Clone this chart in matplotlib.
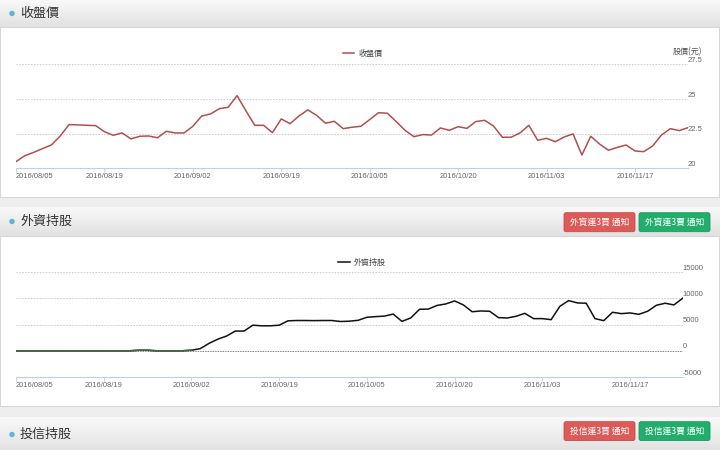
import numpy as np
import matplotlib.pyplot as plt
from matplotlib.patches import Rectangle, FancyBboxPatch, Circle
from matplotlib.colors import LinearSegmentedColormap

W, H = 720, 450
CJK = ['Noto Sans CJK TC', 'DejaVu Sans']
NUM = ['Liberation Sans', 'DejaVu Sans']

## Data
date_labels = ['2016/08/05', '2016/08/19', '2016/09/02', '2016/09/19',
               '2016/10/05', '2016/10/20', '2016/11/03', '2016/11/17']

close_price = [20.48, 20.91, 21.15, 21.42, 21.68, 22.33, 23.15, 23.13, 23.10, 23.08,
               22.64, 22.38, 22.55, 22.12, 22.31, 22.33, 22.20, 22.67, 22.55, 22.55,
               23.03, 23.77, 23.92, 24.30, 24.40, 25.24, 24.15, 23.10, 23.10, 22.57,
               23.56, 23.22, 23.77, 24.21, 23.82, 23.25, 23.39, 22.86, 22.96, 23.03,
               23.51, 24.01, 23.97, 23.37, 22.74, 22.28, 22.43, 22.40, 22.91, 22.74,
               23.00, 22.88, 23.37, 23.46, 23.05, 22.24, 22.24, 22.55, 23.10, 22.02,
               22.16, 21.92, 22.26, 22.48, 20.96, 22.31, 21.75, 21.30, 21.51, 21.68,
               21.25, 21.20, 21.61, 22.40, 22.86, 22.72, 22.93]

foreign_hold = [0, 0, 0, 0, 0, 0, 0, 0, 0, 0,
                0, 0, 0, 0, 100, 100, 0, 0, 0, 0,
                100, 400, 1400, 2200, 2800, 3750, 3750, 4870, 4750, 4750,
                4870, 5700, 5760, 5760, 5740, 5760, 5760, 5570, 5630, 5800,
                6380, 6500, 6600, 6980, 5590, 6250, 7900, 7940, 8630, 8920,
                9490, 8730, 7430, 7580, 7520, 6310, 6240, 6560, 7130, 6120,
                6120, 5920, 8470, 9550, 9110, 9050, 6120, 5730, 7330, 7070,
                7200, 6940, 7520, 8660, 9050, 8730, 10000]

price_ticks = [20, 22.5, 25, 27.5]
hold_ticks = [-5000, 0, 5000, 10000, 15000]

## Page background
fig = plt.figure(figsize=(7.2, 4.5), dpi=100)
bg = fig.add_axes([0, 0, 1, 1])
bg.axis('off')
bg.add_patch(Rectangle((0, 0), W, H, color='#eeeeee', zorder=0))

head_cmap = LinearSegmentedColormap.from_list('head', ['#f9f9f9', '#e1e1e1'])
grad = np.linspace(0, 1, 64).reshape(-1, 1)


def header(y0, y1, title, buttons=()):
    bg.imshow(grad, cmap=head_cmap, extent=(0, W, y1, y0), aspect='auto', zorder=1)
    bg.plot([0, W], [y1, y1], color='#d6d6d6', lw=0.6, zorder=2)
    ym = (y0 + y1) / 2
    bg.add_patch(Circle((12, ym), 2.0, color='#5bb6d6', zorder=3))
    bg.text(20, ym, title, family=CJK, fontsize=9.4, color='#333333',
            ha='left', va='center', zorder=3)
    for (bx0, bx1, by0, by1, label, face, edge) in buttons:
        bg.add_patch(FancyBboxPatch((bx0, by0), bx1 - bx0, by1 - by0,
                                    boxstyle='round,pad=0,rounding_size=2',
                                    facecolor=face, edgecolor=edge, lw=0.6, zorder=3))
        bg.text((bx0 + bx1) / 2, (by0 + by1) / 2, label, family=CJK, fontsize=6.3,
                color='white', ha='center', va='center', zorder=4)


def panel(y0, y1):
    bg.add_patch(Rectangle((0, y0), W - 1, y1 - y0, facecolor='white',
                           edgecolor='#d8d8d8', lw=0.8, zorder=1))


panel(27, 197)
panel(236, 406)
header(0, 27, '收盤價')
header(207, 236, '外資持股',
       [(564, 635, 212.7, 231.7, '外資連3買 通知', '#dc5b59', '#c94947'),
        (639, 710, 212.7, 231.7, '外資連3賣 通知', '#21ad6c', '#1a9a5c')])
header(417, 452, '投信持股',
       [(564, 635, 421.7, 440.5, '投信連3買 通知', '#dc5b59', '#c94947'),
        (639, 710, 421.7, 440.5, '投信連3賣 通知', '#21ad6c', '#1a9a5c')])
bg.set_xlim(0, W)
bg.set_ylim(H, 0)

x = np.arange(len(close_price))


def chart_axes(left, right, top, bottom):
    ax = fig.add_axes([left / W, 1 - bottom / H, (right - left) / W, (bottom - top) / H])
    ax.set_facecolor('none')
    for s in ['top', 'right', 'left']:
        ax.spines[s].set_visible(False)
    ax.spines['bottom'].set_color('#c0d0e0')
    ax.spines['bottom'].set_linewidth(0.8)
    ax.set_xlim(0, len(close_price) - 1)
    ax.set_xticks(range(0, 10 * len(date_labels), 10))
    ax.set_xticklabels(date_labels, family=NUM)
    # first label sits to the right of its tick, like the page does
    ax.get_xticklabels()[0].set_horizontalalignment('left')
    ax.tick_params(axis='x', length=3, width=0.6, color='#c0d0e0', labelsize=5.4,
                   labelcolor='#666666', pad=0.3)
    ax.tick_params(axis='y', length=0, labelleft=False)
    ax.grid(axis='y', color='#c8c8c8', lw=0.6, linestyle=(0, (2, 1.5)))
    return ax


def right_labels(ax, ticks):
    for v in ticks:
        ax.annotate(f'{v:g}', xy=(1, v), xycoords=ax.get_yaxis_transform(),
                    xytext=(0, 2.7), textcoords='offset points', ha='left', va='center',
                    family=NUM, fontsize=5.5, color='#666666', annotation_clip=False)


## Closing price chart
ax1 = chart_axes(16, 688, 64.3, 168.3)
ax1.set_ylim(price_ticks[0], price_ticks[-1])
ax1.set_yticks(price_ticks)
ax1.plot(x, close_price, color='#b0504c', lw=1.1, label='收盤價')
right_labels(ax1, price_ticks)
leg1 = ax1.legend(loc='center', bbox_to_anchor=(362.5 / W, 1 - 53 / H),
                  bbox_transform=fig.transFigure, frameon=False, handlelength=1.4,
                  handletextpad=0.5, prop={'family': CJK, 'size': 5.8})
for t in leg1.get_texts():
    t.set_color('#444444')
bg.text(687.5, 51.7, '股價(元)', family=CJK, fontsize=5.8, color='#555555',
        ha='center', va='center', zorder=3)

## Foreign holdings chart
ax2 = chart_axes(16, 682.7, 272, 377)
ax2.set_ylim(hold_ticks[0], hold_ticks[-1])
ax2.set_yticks(hold_ticks)
for gl, v in zip(ax2.get_ygridlines(), hold_ticks):
    if v == 0:
        gl.set_color('#555555')
        gl.set_linestyle((0, (1, 1)))
ax2.plot(x, foreign_hold, color='#111111', lw=1.1, label='外資持股', zorder=3)
ax2.plot(x[:21], foreign_hold[:21], color='#3f6a3f', lw=1.1, zorder=4)
right_labels(ax2, hold_ticks)
leg2 = ax2.legend(loc='center', bbox_to_anchor=(362 / W, 1 - 262.3 / H),
                  bbox_transform=fig.transFigure, frameon=False, handlelength=1.4,
                  handletextpad=0.5, prop={'family': CJK, 'size': 5.8})
for t in leg2.get_texts():
    t.set_color('#444444')

fig.savefig('out.png', dpi=100)
